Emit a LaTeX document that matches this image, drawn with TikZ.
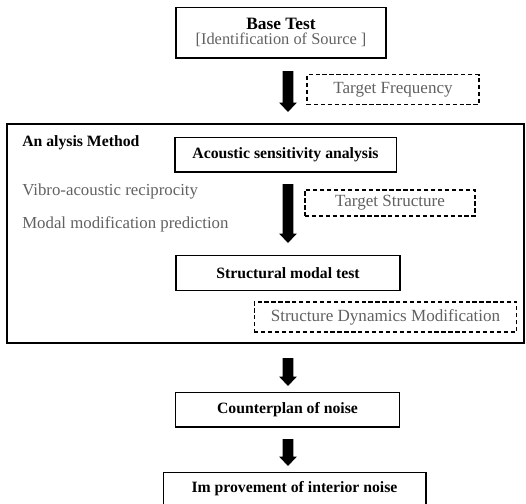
\documentclass[tikz,border=0pt]{standalone}
\usepackage{fontspec}
\setmainfont{Liberation Serif}
\begin{document}
\begin{tikzpicture}[x=0.75pt,y=-0.75pt,
  solidbox/.style={draw,line width=1pt,minimum height=26pt,inner sep=0pt},
  dashbox/.style={draw,dash pattern=on 3.2pt off 2pt,line width=0.9pt,text=black!62,inner sep=0pt,font=\fontsize{12.8}{14}\selectfont},
  btext/.style={font=\bfseries\fontsize{11.8}{13}\selectfont},
  gtext/.style={text=black!62,font=\fontsize{12.6}{14}\selectfont,anchor=west,inner sep=0pt}]
\useasboundingbox (0,0) rectangle (526,504);
% big frame
\draw[line width=1pt] (7,124) rectangle (524,343);
% base test
\node[solidbox,minimum width=157.5pt,minimum height=38pt,align=center] (base) at (281,32.5)
  {{\bfseries\fontsize{13}{14}\selectfont Base Test}\\[-1pt]{\color{black!62}\fontsize{12.3}{14}\selectfont [Identification of Source ]}};
\node[dashbox,minimum width=129pt,minimum height=22pt] (tf) at (393,89.5) {Target Frequency};
% analysis
\node[btext,anchor=west,inner sep=0pt] (am) at (22,143) {An alysis Method};
\node[solidbox,btext,minimum width=166pt] (asa) at (285.5,154.5) {Acoustic sensitivity analysis};
\node[gtext] (var) at (22,191) {Vibro-acoustic reciprocity};
\node[gtext] (mmp) at (22,224) {Modal modification prediction};
\node[dashbox,minimum width=127.5pt,minimum height=19.5pt] (ts) at (390,203) {Target Structure};
\node[solidbox,btext,minimum width=168pt] (smt) at (288,273) {Structural modal test};
\node[dashbox,minimum width=197pt,minimum height=22.5pt] (sdm) at (385.5,317) {Structure Dynamics Modification};
% lower
\node[solidbox,btext,minimum width=168pt] (cp) at (287.5,409.5) {Counterplan of noise};
\node[solidbox,btext,minimum width=197pt,minimum height=30pt,anchor=north] (imp) at (294.5,472) {};
\node[btext] (impt) at (294.5,489) {Im provement of interior noise};
% arrows
\coordinate (a1s) at (288,71); \coordinate (a1e) at (288,112);
\coordinate (a2s) at (288,184); \coordinate (a2e) at (288,243);
\coordinate (a3s) at (288,358); \coordinate (a3e) at (288,386);
\coordinate (a4s) at (288,439); \coordinate (a4e) at (288,466);
\foreach \s/\e in {a1s/a1e,a2s/a2e,a3s/a3e,a4s/a4e}{
  \fill ([xshift=-4pt]\s) -- ([xshift=4pt]\s) -- ([xshift=4pt,yshift=7pt]\e) -- ([xshift=6.6pt,yshift=7pt]\e)
    -- (\e) -- ([xshift=-6.6pt,yshift=7pt]\e) -- ([xshift=-4pt,yshift=7pt]\e) -- cycle;
}
\end{tikzpicture}
\end{document}
